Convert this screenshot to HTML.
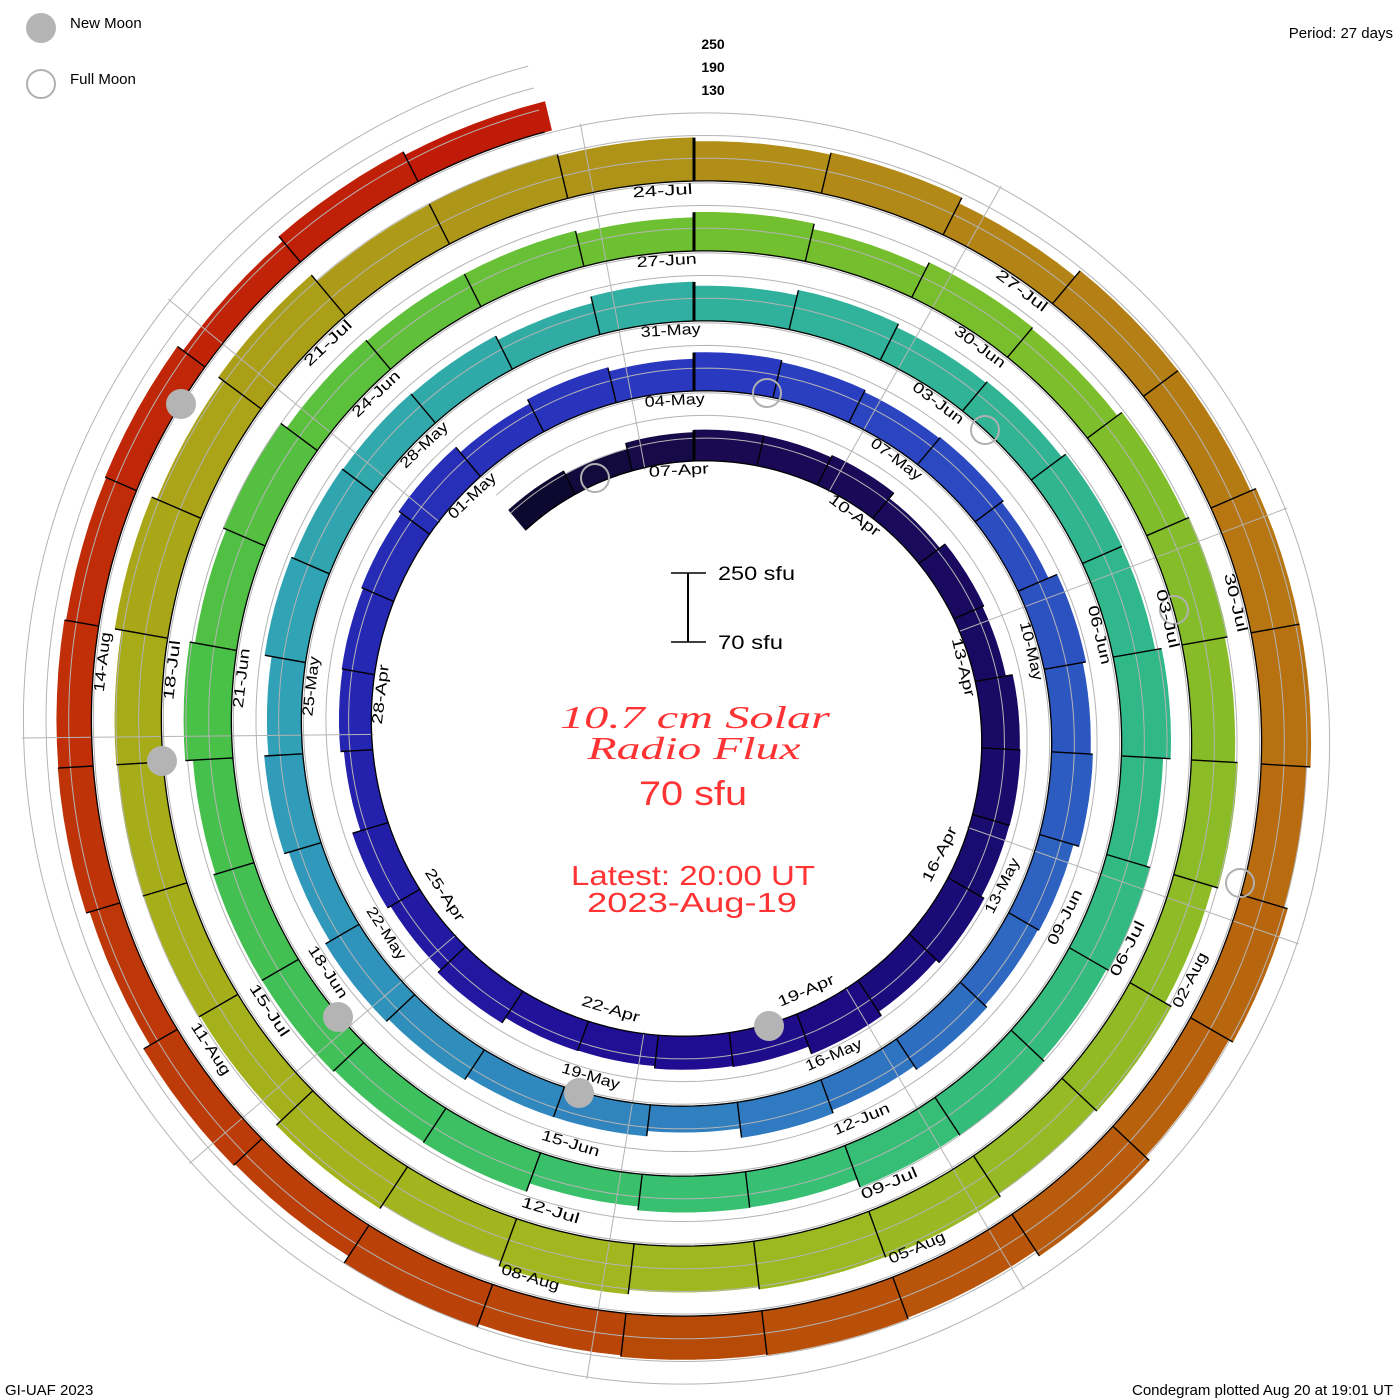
<!DOCTYPE html>
<html><head><meta charset="utf-8">
<style>
html,body{margin:0;padding:0;background:#fff;}
svg{display:block;font-family:"Liberation Sans",sans-serif;}
</style></head>
<body>
<svg id="s" width="1400" height="1400" viewBox="0 0 1400 1400" xmlns="http://www.w3.org/2000/svg">
<rect width="1400" height="1400" fill="#fff"/>
<g id="bars"></g>
<g id="grid" fill="none" stroke="#b4b4b4" stroke-width="1"></g>
<g id="blk" fill="none" stroke="#000"></g>
<g id="moons">
<circle cx="595" cy="478" r="14" fill="none" stroke="#b0b0b0" stroke-width="2"/>
<circle cx="767" cy="393" r="14" fill="none" stroke="#b0b0b0" stroke-width="2"/>
<circle cx="985" cy="430" r="14" fill="none" stroke="#b0b0b0" stroke-width="2"/>
<circle cx="1174" cy="610" r="14" fill="none" stroke="#b0b0b0" stroke-width="2"/>
<circle cx="1240" cy="883" r="14" fill="none" stroke="#b0b0b0" stroke-width="2"/>
<circle cx="181" cy="404" r="15" fill="#b4b4b4"/>
<circle cx="162" cy="761" r="15" fill="#b4b4b4"/>
<circle cx="338" cy="1017" r="15" fill="#b4b4b4"/>
<circle cx="579" cy="1093" r="15" fill="#b4b4b4"/>
<circle cx="769" cy="1026" r="15" fill="#b4b4b4"/>
</g>
<g id="labels" font-size="15" fill="#000">
<text>07-Apr</text><text>10-Apr</text><text>13-Apr</text><text>16-Apr</text><text>19-Apr</text><text>22-Apr</text><text>25-Apr</text><text>28-Apr</text>
<text>01-May</text><text>04-May</text><text>07-May</text><text>10-May</text><text>13-May</text><text>16-May</text><text>19-May</text><text>22-May</text><text>25-May</text><text>28-May</text><text>31-May</text>
<text>03-Jun</text><text>06-Jun</text><text>09-Jun</text><text>12-Jun</text><text>15-Jun</text><text>18-Jun</text><text>21-Jun</text><text>24-Jun</text><text>27-Jun</text><text>30-Jun</text>
<text>03-Jul</text><text>06-Jul</text><text>09-Jul</text><text>12-Jul</text><text>15-Jul</text><text>18-Jul</text><text>21-Jul</text><text>24-Jul</text><text>27-Jul</text><text>30-Jul</text>
<text>02-Aug</text><text>05-Aug</text><text>08-Aug</text><text>11-Aug</text><text>14-Aug</text>
</g>
<!-- legend -->
<circle cx="41" cy="28" r="15" fill="#b4b4b4"/>
<text x="70" y="28" font-size="15" fill="#000">New Moon</text>
<circle cx="41" cy="84" r="14" fill="none" stroke="#b0b0b0" stroke-width="2"/>
<text x="70" y="84" font-size="15" fill="#000">Full Moon</text>
<text x="1393" y="38" font-size="15" text-anchor="end" fill="#000">Period: 27 days</text>
<text x="713" y="49" font-size="14" text-anchor="middle" font-weight="bold" fill="#000">250</text>
<text x="713" y="72" font-size="14" text-anchor="middle" font-weight="bold" fill="#000">190</text>
<text x="713" y="95" font-size="14" text-anchor="middle" font-weight="bold" fill="#000">130</text>
<text x="5" y="1395" font-size="15" fill="#000">GI-UAF 2023</text>
<text x="1393" y="1395" font-size="15" text-anchor="end" fill="#000">Condegram plotted Aug 20 at 19:01 UT</text>
<!-- scale -->
<line x1="688" y1="573" x2="688" y2="642" stroke="#000" stroke-width="2"/>
<line x1="671" y1="573" x2="706" y2="573" stroke="#000" stroke-width="1.5"/>
<line x1="671" y1="642" x2="706" y2="642" stroke="#000" stroke-width="1.5"/>
<text x="718" y="580" font-size="19" fill="#000" textLength="77" lengthAdjust="spacingAndGlyphs">250 sfu</text>
<text x="718" y="649" font-size="19" fill="#000" textLength="65" lengthAdjust="spacingAndGlyphs">70 sfu</text>
<!-- title -->
<g fill="#ff3333" text-anchor="middle">
<text x="695" y="728" font-size="32" font-style="italic" font-family="Liberation Serif,serif" textLength="270" lengthAdjust="spacingAndGlyphs">10.7 cm Solar</text>
<text x="694" y="759" font-size="32" font-style="italic" font-family="Liberation Serif,serif" textLength="213" lengthAdjust="spacingAndGlyphs">Radio Flux</text>
<text x="693" y="805" font-size="34" textLength="108" lengthAdjust="spacingAndGlyphs">70 sfu</text>
<text x="693" y="885" font-size="28" textLength="244" lengthAdjust="spacingAndGlyphs">Latest: 20:00 UT</text>
<text x="692" y="912" font-size="28" textLength="210" lengthAdjust="spacingAndGlyphs">2023-Aug-19</text>
</g>
</svg>
<script>
(function(){
var NS="http://www.w3.org/2000/svg";
var cx=694,cy=731,R0=270,G=70;
function base(p){return R0+G*p/360;}
function pt(r,p){var a=p*Math.PI/180;return [cx+r*Math.sin(a),cy-r*Math.cos(a)];}
function f(n){return n.toFixed(1);}
var TK=[[-40,22],[0,30],[45,30],[90,35],[112,40],[135,42],[180,32],[225,35],[270,32],[315,35],[360,35],[405,35],[450,40],[495,35],[540,30],[585,35],[630,38],[675,38],[720,35],[765,40],[810,45],[855,45],[900,35],[945,40],[990,45],[1035,40],[1080,33],[1125,40],[1170,45],[1215,45],[1260,50],[1305,45],[1350,47],[1395,52],[1425,42],[1440,40],[1485,40],[1530,50],[1575,45],[1620,45],[1665,38],[1710,33],[1755,32],[1790,30]];
var CK=[[-40,'#0a0828'],[0,'#1a0a50'],[90,'#180a66'],[180,'#200c90'],[270,'#2424b0'],[360,'#2a38c0'],[450,'#2c58c0'],[540,'#3080c0'],[630,'#30a0b8'],[720,'#30b0a0'],[810,'#30b888'],[900,'#38c070'],[990,'#48c048'],[1080,'#70c030'],[1170,'#88bc28'],[1260,'#a0b820'],[1350,'#a8ac18'],[1440,'#b09018'],[1530,'#b87010'],[1620,'#b84a08'],[1710,'#c03008'],[1790,'#c01808']];
function interp(K,p){for(var i=0;i<K.length-1;i++){if(p<=K[i+1][0]){var t=(p-K[i][0])/(K[i+1][0]-K[i][0]);return [i,Math.max(0,Math.min(1,t))];}}return [K.length-2,1];}
function thick(p){var r=interp(TK,p);return TK[r[0]][1]+(TK[r[0]+1][1]-TK[r[0]][1])*r[1];}
function hex(h){return [parseInt(h.substr(1,2),16),parseInt(h.substr(3,2),16),parseInt(h.substr(5,2),16)];}
function col(p){var r=interp(CK,p),a=hex(CK[r[0]][1]),b=hex(CK[r[0]+1][1]),t=r[1];return 'rgb('+Math.round(a[0]+(b[0]-a[0])*t)+','+Math.round(a[1]+(b[1]-a[1])*t)+','+Math.round(a[2]+(b[2]-a[2])*t)+')';}
var D=13.3333,N=137,P0=-40,PEND=P0+N*D;
var bars=document.getElementById('bars'),grid=document.getElementById('grid'),blk=document.getElementById('blk');
var th=[];
for(var d=0;d<N;d++){var p1=P0+d*D,p2=p1+D,pm=p1+D/2;
 var t=thick(pm)+3*Math.sin(d*2.7+1.3)+2*Math.sin(d*5.1);th.push(t);
 var s='';var k;
 for(k=0;k<=6;k++){var p=p1+(p2-p1)*k/6;var q=pt(base(p),p);s+=(k?'L':'M')+f(q[0])+' '+f(q[1]);}
 for(k=6;k>=0;k--){var p=p1+(p2-p1)*k/6;var q=pt(base(p)+t,p);s+='L'+f(q[0])+' '+f(q[1]);}
 var e=document.createElementNS(NS,'path');e.setAttribute('d',s+'Z');e.setAttribute('fill',col(pm));e.setAttribute('stroke',col(pm));e.setAttribute('stroke-width','0.6');bars.appendChild(e);
}
[22.7,45.4,68].forEach(function(o){var s='';for(var p=P0;p<=PEND+0.01;p+=1){var q=pt(base(p)+o,p);s+=(p==P0?'M':'L')+f(q[0])+' '+f(q[1]);}
 var e=document.createElementNS(NS,'path');e.setAttribute('d',s);grid.appendChild(e);});
for(var k=0;k<9;k++){var a=-10.6+40*k;var n=0;while(a+360*(n+1)<=PEND)n++;
 var q1=pt(base(a)-2,a),q2=pt(base(a+360*n)+70,a);
 var e=document.createElementNS(NS,'line');e.setAttribute('x1',f(q1[0]));e.setAttribute('y1',f(q1[1]));e.setAttribute('x2',f(q2[0]));e.setAttribute('y2',f(q2[1]));grid.appendChild(e);}
var s='';for(var p=P0;p<=PEND+0.01;p+=1){var q=pt(base(p),p);s+=(p==P0?'M':'L')+f(q[0])+' '+f(q[1]);}
var e=document.createElementNS(NS,'path');e.setAttribute('d',s);e.setAttribute('stroke-width','1.3');blk.appendChild(e);
for(var d=1;d<N;d++){var p=P0+d*D;var t=Math.max(th[d-1],th[d]);var q1=pt(base(p),p),q2=pt(base(p)+t,p);
 var l=document.createElementNS(NS,'line');l.setAttribute('x1',f(q1[0]));l.setAttribute('y1',f(q1[1]));l.setAttribute('x2',f(q2[0]));l.setAttribute('y2',f(q2[1]));
 var m=Math.abs(((p%360)+360)%360);var thickL=(m<0.5||m>359.5);
 l.setAttribute('stroke-width',thickL?'3':'1.4');blk.appendChild(l);}
var labs=document.getElementById('labels').getElementsByTagName('text');
for(var i=0;i<labs.length;i++){var d=2+3*i;var p=P0+d*D+10;var r=base(p)-13;var q=pt(r,p);
 var m=((p%360)+360)%360;var rot=(m>90&&m<270)?p-180:p;
 var el=labs[i];el.setAttribute('text-anchor','middle');
 el.setAttribute('textLength','60');el.setAttribute('lengthAdjust','spacingAndGlyphs');
 el.setAttribute('transform','translate('+f(q[0])+' '+f(q[1])+') rotate('+f(rot)+')');
}
})();
</script>
</body></html>
